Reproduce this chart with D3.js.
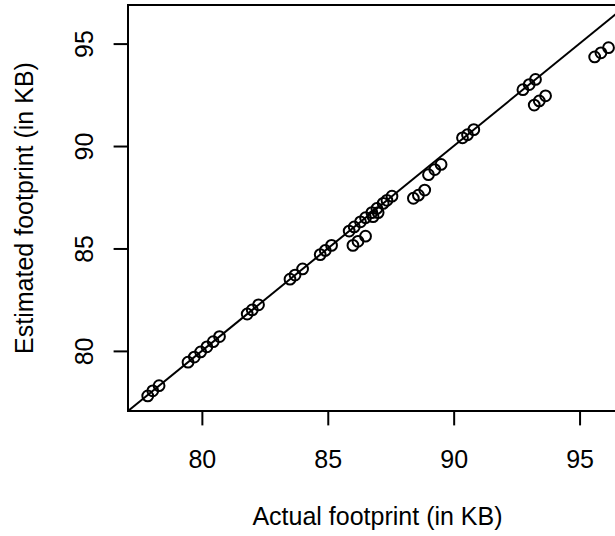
<!DOCTYPE html>
<meta charset="utf-8">
<head>
<style>
  body { margin: 0; background: #fff; }
  svg text { font-family: "Liberation Sans", Arial, Helvetica, sans-serif; fill: #000; }
  .box { fill: none; stroke: #000; stroke-width: 2px; }
  .diag { stroke: #000; stroke-width: 2px; }
  .pt { fill: none; stroke: #000; stroke-width: 2px; }
</style>
</head>
<body>
<script src="https://d3js.org/d3.v7.min.js"></script>
<script>

// values
var actual = [
  77.85, 78.05, 78.3,
  79.45, 79.7, 79.95, 80.2, 80.45, 80.7,
  81.8, 82.0, 82.25,
  83.5, 83.7, 84.0,
  84.7, 84.9, 85.15,
  85.85, 86.05, 86.3, 86.5, 86.75, 86.95, 87.2, 87.35, 87.55,
  86.0, 86.2, 86.5, 86.8, 87.0,
  88.4, 88.6, 88.85,
  89.0, 89.25, 89.5,
  90.35, 90.55, 90.8,
  92.75, 93.0, 93.25,
  93.2, 93.4, 93.65,
  95.6, 95.85, 96.15
];
var estimated = [
  77.8, 78.05, 78.3,
  79.45, 79.7, 79.95, 80.2, 80.45, 80.7,
  81.8, 82.0, 82.25,
  83.5, 83.7, 84.0,
  84.7, 84.9, 85.15,
  85.85, 86.05, 86.3, 86.5, 86.75, 86.95, 87.2, 87.35, 87.55,
  85.15, 85.35, 85.6, 86.55, 86.75,
  87.45, 87.6, 87.85,
  88.6, 88.85, 89.1,
  90.4, 90.55, 90.8,
  92.75, 93.0, 93.25,
  92.0, 92.2, 92.45,
  94.35, 94.55, 94.8
];
var xTicks = [80, 85, 90, 95];
var yTicks = [80, 85, 90, 95];
var xTitle = "Actual footprint (in KB)";
var yTitle = "Estimated footprint (in KB)";

var data = actual.map(function(a, i) { return {a: a, e: estimated[i]}; });

// dimensions (R-like layout, right side runs past the window)
var lh = 28.8;
var fs = "25px";
var margin = {top: 5, left: 128},
    width = 499,
    height = 406;

// both axes share one range, padded 4% like R
var ext = d3.extent(actual.concat(estimated));
var pad = (ext[1] - ext[0]) * 0.04;
var dom = [ext[0] - pad, ext[1] + pad];

var x = d3.scaleLinear().domain(dom).range([0, width]);
var y = d3.scaleLinear().domain(dom).range([height, 0]);

var svg = d3.select("body").append("svg")
    .attr("width", 615)
    .attr("height", 536)
  .append("g")
    .attr("transform", "translate(" + margin.left + "," + margin.top + ")");

svg.append("clipPath").attr("id", "clip")
  .append("rect").attr("width", width).attr("height", height);

// y = x line
svg.append("line")
    .attr("class", "diag")
    .attr("clip-path", "url(#clip)")
    .attr("x1", x(dom[0])).attr("y1", y(dom[0]))
    .attr("x2", x(dom[1])).attr("y2", y(dom[1]));

// points
svg.append("g")
    .attr("clip-path", "url(#clip)")
  .selectAll("circle")
    .data(data)
  .enter().append("circle")
    .attr("class", "pt")
    .attr("cx", function(d) { return x(d.a); })
    .attr("cy", function(d) { return y(d.e); })
    .attr("r", 5.4);

// box
svg.append("rect")
    .attr("class", "box")
    .attr("width", width)
    .attr("height", height);

// x axis
var gx = svg.append("g")
    .attr("transform", "translate(0," + height + ")")
    .call(d3.axisBottom(x).tickValues(xTicks).tickSize(lh * 0.5).tickFormat(d3.format("d")));
gx.select(".domain").remove();
gx.selectAll("line").attr("stroke-width", 2);
gx.selectAll("text")
    .attr("y", 57)
    .attr("dy", 0)
    .attr("font-size", fs);

// y axis, labels parallel to the axis
var gy = svg.append("g")
    .call(d3.axisLeft(y).tickValues(yTicks).tickSize(lh * 0.5).tickFormat(d3.format("d")));
gy.select(".domain").remove();
gy.selectAll("line").attr("stroke-width", 2);
gy.selectAll("text")
    .attr("transform", "rotate(-90)")
    .attr("x", 0)
    .attr("y", -lh * 1.2)
    .attr("dy", 0)
    .attr("text-anchor", "middle")
    .attr("font-size", fs);

// titles
svg.append("text")
    .attr("x", width / 2)
    .attr("y", height + 114)
    .attr("text-anchor", "middle")
    .attr("font-size", fs)
    .text(xTitle);

svg.append("text")
    .attr("transform", "translate(-95," + (height / 2) + ") rotate(-90)")
    .attr("text-anchor", "middle")
    .attr("font-size", fs)
    .text(yTitle);

</script>
</body>
